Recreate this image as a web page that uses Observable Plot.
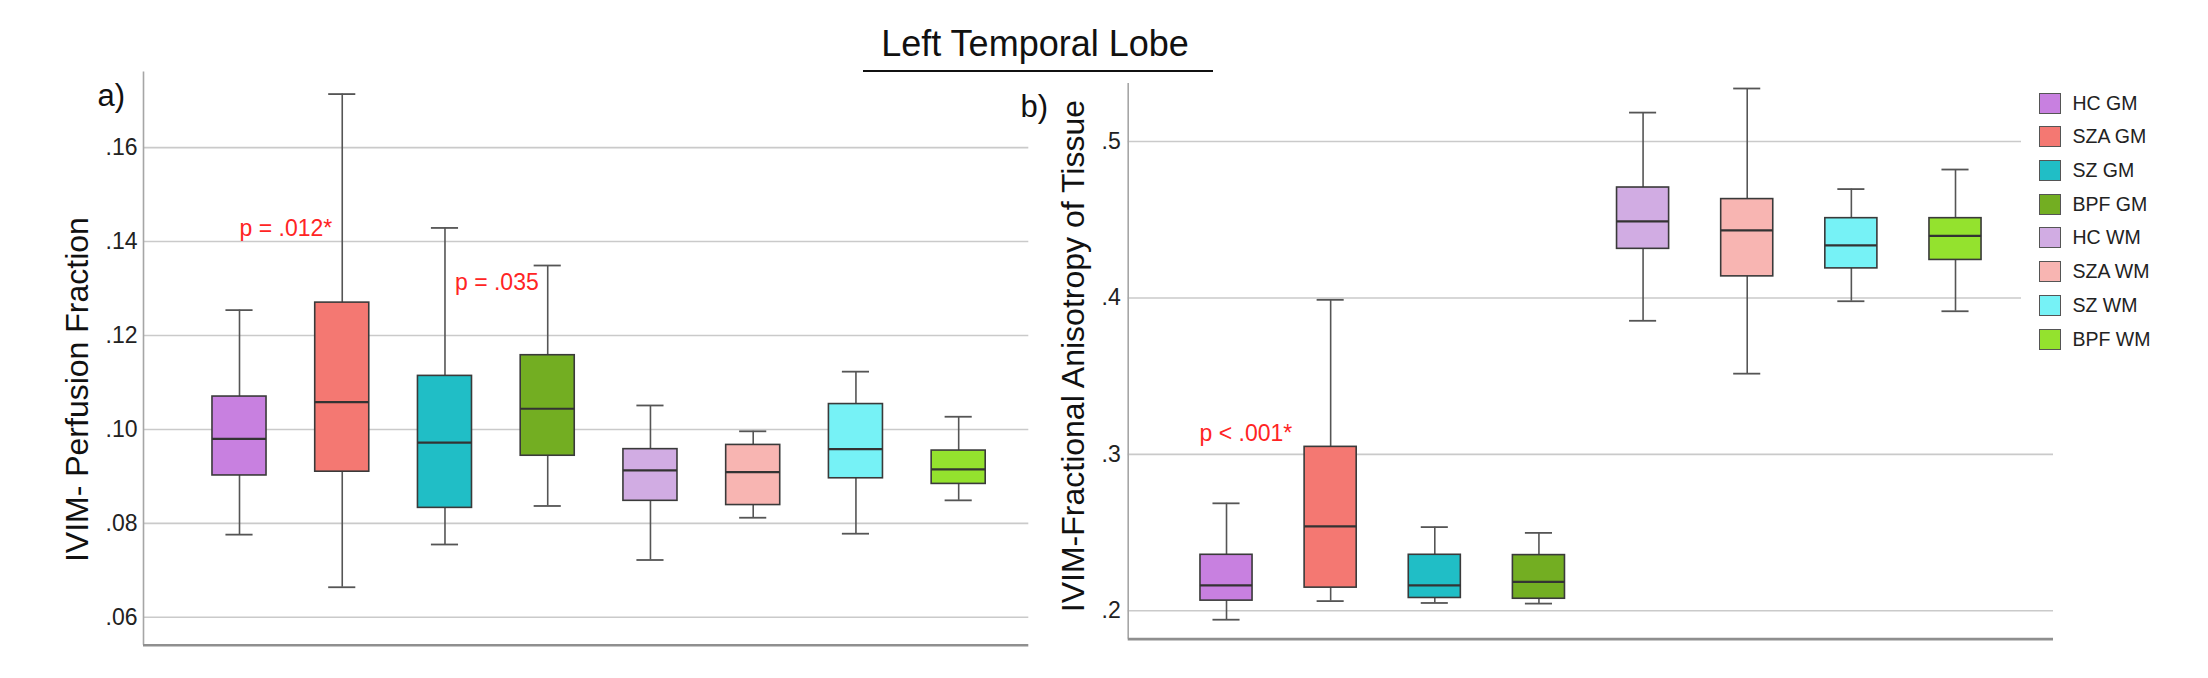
<!DOCTYPE html>
<html>
<head>
<meta charset="utf-8">
<script src="https://cdn.jsdelivr.net/npm/d3@7"></script>
<script src="https://cdn.jsdelivr.net/npm/@observablehq/plot@0.6"></script>
<style>
  html, body { margin: 0; padding: 0; background: #fff; }
  #root { position: relative; width: 2208px; height: 678px; overflow: hidden; font-family: "Liberation Sans", Arial, sans-serif; }
  #title { position: absolute; left: 0; width: 2070px; top: 26px; text-align: center; font-size: 36px; line-height: 36px; color: #111; }
  #underline { position: absolute; left: 863px; top: 69.5px; width: 350px; height: 2.6px; background: #111; }
  .panel { position: absolute; top: 0; }
  #legend { position: absolute; left: 2021px; top: 86.4px; width: 187px; background: #fff; }
  .row { height: 33.7px; display: flex; align-items: center; }
  .sw { margin-left: 18px; width: 22px; height: 21px; box-sizing: border-box; border: 1.5px solid #555; }
  .lab { margin-left: 11.5px; font-size: 19.5px; color: #222; white-space: nowrap; }
</style>
</head>
<body>
<div id="root">
  <div id="title"></div>
  <div id="underline"></div>
  <div id="panelA" class="panel" style="left:0px"></div>
  <div id="panelB" class="panel" style="left:1000px"></div>
  <div id="legend"></div>
</div>
<script>
// ---------- data ----------
const titleText = "Left Temporal Lobe";
const groups = ["HC GM", "SZA GM", "SZ GM", "BPF GM", "HC WM", "SZA WM", "SZ WM", "BPF WM"];
const colors = ["#c880e0", "#f47872", "#20bec6", "#73ae22", "#d1ace3", "#f8b5b2", "#76f2f6", "#94e22e"];

// Panel a) IVIM- Perfusion Fraction
const labelA = "IVIM- Perfusion Fraction";
const lowA = [0.0776, 0.0664, 0.0755, 0.0837, 0.0722, 0.0812, 0.0778, 0.0849];
const q1A  = [0.0902, 0.0910, 0.0833, 0.0944, 0.0848, 0.0839, 0.0896, 0.0884];
const medA = [0.0980, 0.1058, 0.0972, 0.1044, 0.0913, 0.0909, 0.0958, 0.0915];
const q3A  = [0.1070, 0.1270, 0.1114, 0.1158, 0.0958, 0.0967, 0.1054, 0.0955];
const hiA  = [0.1254, 0.1714, 0.1429, 0.1349, 0.1051, 0.0996, 0.1123, 0.1027];
const ticksA = [0.06, 0.08, 0.10, 0.12, 0.14, 0.16];
const tickLabelsA = [".06", ".08", ".10", ".12", ".14", ".16"];
const annA1 = [{g: 0, v: 0.1412, t: "p = .012*"}];
const annA2 = [{g: 2, v: 0.1297, t: "p = .035"}];

// Panel b) IVIM-Fractional Anisotropy of Tissue
const labelB = "IVIM-Fractional Anisotropy of Tissue";
const lowB = [0.1943, 0.2062, 0.2050, 0.2046, 0.3854, 0.3516, 0.3979, 0.3915];
const q1B  = [0.2065, 0.2148, 0.2082, 0.2077, 0.4314, 0.4138, 0.4189, 0.4243];
const medB = [0.2163, 0.2540, 0.2163, 0.2185, 0.4490, 0.4432, 0.4336, 0.4397];
const q3B  = [0.2358, 0.3048, 0.2358, 0.2356, 0.4706, 0.4632, 0.4510, 0.4510];
const hiB  = [0.2687, 0.3988, 0.2535, 0.2498, 0.5185, 0.5339, 0.4696, 0.4821];
const ticksB = [0.2, 0.3, 0.4, 0.5];
const tickLabelsB = [".2", ".3", ".4", ".5"];
const annB1 = [{g: 0, v: 0.3086, t: "p < .001*"}];

// ---------- drawing ----------
document.getElementById("title").textContent = titleText;

const tickFont = "'Liberation Sans Narrow', 'Liberation Sans', Arial, sans-serif";
const baseFont = "'Liberation Sans', Arial, sans-serif";

function table(lo, q1, med, q3, hi) {
  return groups.map((g, i) => ({i, g, lo: lo[i], q1: q1[i], med: med[i], q3: q3[i], hi: hi[i], c: colors[i]}));
}

function panel(cfg) {
  const data = table(cfg.lo, cfg.q1, cfg.med, cfg.q3, cfg.hi);
  const hw = cfg.half, cw = cfg.cap;
  const marks = [
    Plot.ruleY(cfg.ticks, {stroke: "#cacaca", strokeWidth: 1.6}),
    Plot.axisY(cfg.ticks, {
      tickSize: 0, tickPadding: cfg.tickPadding, label: null,
      tickFormat: d => cfg.tickLabels[cfg.ticks.indexOf(d)],
      fontSize: 23, fontFamily: tickFont, fill: "#222"
    }),
    Plot.ruleX([cfg.xDomain[0]], {stroke: "#a6a6a6", strokeWidth: 1.6}),
    Plot.ruleY([cfg.yDomain[0]], {stroke: "#8f8f8f", strokeWidth: 2.6}),
    // whiskers
    Plot.ruleX(data, {x: "i", y1: "lo", y2: "q1", stroke: "#555", strokeWidth: 1.6}),
    Plot.ruleX(data, {x: "i", y1: "q3", y2: "hi", stroke: "#555", strokeWidth: 1.6}),
    Plot.ruleY(data, {y: "hi", x1: d => d.i - cw, x2: d => d.i + cw, stroke: "#555", strokeWidth: 1.8}),
    Plot.ruleY(data, {y: "lo", x1: d => d.i - cw, x2: d => d.i + cw, stroke: "#555", strokeWidth: 1.8}),
    // boxes
    Plot.rect(data, {x1: d => d.i - hw, x2: d => d.i + hw, y1: "q1", y2: "q3", fill: "c", stroke: "#3a3a3a", strokeWidth: 1.6}),
    Plot.ruleY(data, {y: "med", x1: d => d.i - hw, x2: d => d.i + hw, stroke: "#333", strokeWidth: 2.2}),
    // y label
    Plot.text([cfg.label], {text: d => d, frameAnchor: "left", rotate: -90, dx: cfg.labelDx, dy: cfg.labelDy,
      textAnchor: "middle", lineAnchor: "bottom", fontSize: 32, fontFamily: baseFont, fill: "#111"}),
    // panel letter
    Plot.text([cfg.letter], {text: d => d, frameAnchor: "top-left", dx: cfg.letterDx, dy: cfg.letterDy,
      textAnchor: "start", lineAnchor: "bottom", fontSize: 31, fontFamily: baseFont, fill: "#111"})
  ];
  for (const a of cfg.ann) {
    marks.push(Plot.text(a.data, {x: "g", y: "v", text: "t", dx: a.dx, textAnchor: "start", lineAnchor: "bottom",
      fontSize: 23, fontFamily: baseFont, fill: "#ff2424"}));
  }
  return Plot.plot({
    width: cfg.width, height: 678,
    marginLeft: cfg.ml, marginRight: cfg.mr, marginTop: cfg.mt, marginBottom: cfg.mb,
    x: {domain: cfg.xDomain, axis: null},
    y: {domain: cfg.yDomain, axis: null},
    color: {type: "identity"},
    style: {fontFamily: baseFont, background: "transparent", overflow: "visible"},
    marks
  });
}

document.getElementById("panelA").append(panel({
  lo: lowA, q1: q1A, med: medA, q3: q3A, hi: hiA,
  ticks: ticksA, tickLabels: tickLabelsA, tickPadding: 6,
  width: 1040, ml: 143, mr: 11.7, mt: 71.5, mb: 33.3,
  xDomain: [-0.9344, 7.6825], yDomain: [0.05406, 0.1761],
  half: 0.263, cap: 0.132,
  label: labelA, labelDx: -56, labelDy: 31,
  letter: "a)", letterDx: -46, letterDy: 33.5,
  ann: [{data: annA1, dx: 0}, {data: annA2, dx: 10}]
}));

document.getElementById("panelB").append(panel({
  lo: lowB, q1: q1B, med: medB, q3: q3B, hi: hiB,
  ticks: ticksB, tickLabels: tickLabelsB, tickPadding: 7.5,
  width: 1208, ml: 127.7, mr: 155, mt: 83, mb: 39.4,
  xDomain: [-0.944, 7.941], yDomain: [0.1819, 0.5371],
  half: 0.25, cap: 0.13,
  label: labelB, labelDx: -44.7, labelDy: -5.2,
  letter: "b)", letterDx: -107.7, letterDy: 33.6,
  ann: [{data: annB1, dx: -27}]
}));

// legend
const legend = document.getElementById("legend");
groups.forEach((g, i) => {
  const row = document.createElement("div");
  row.className = "row";
  const sw = document.createElement("div");
  sw.className = "sw";
  sw.style.background = colors[i];
  const lab = document.createElement("div");
  lab.className = "lab";
  lab.textContent = g;
  row.append(sw, lab);
  legend.append(row);
});
</script>
</body>
</html>
